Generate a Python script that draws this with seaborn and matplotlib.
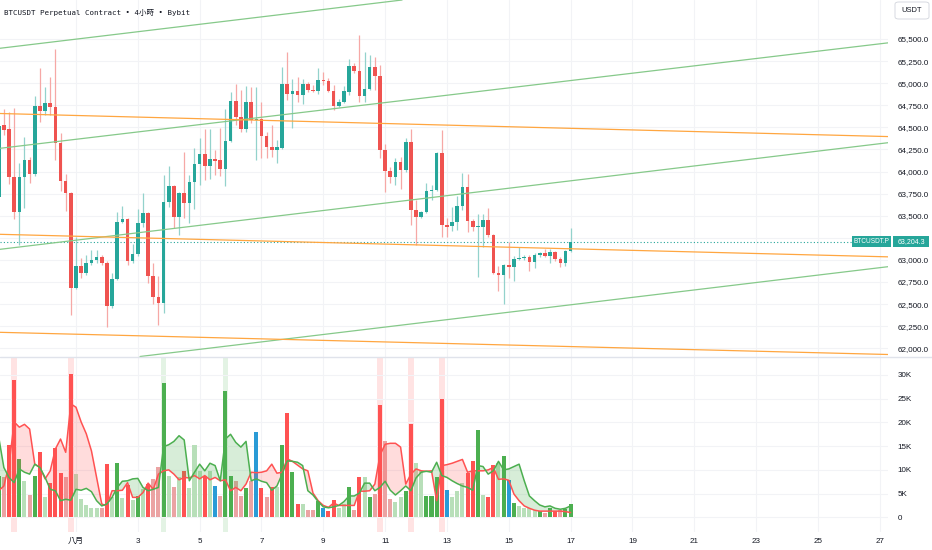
import numpy as np
import pandas as pd
import matplotlib
matplotlib.use("Agg")
import matplotlib.pyplot as plt
import seaborn as sns
from matplotlib.patches import Rectangle, FancyBboxPatch
from matplotlib.lines import Line2D
from matplotlib.ticker import FuncFormatter

# ---------------- data ----------------
first_candle = "2024-07-29 12:00"
opens = [63712, 64527, 64482, 63938, 63542, 63938, 64131, 63972, 64742, 64685,
         64776, 64730, 64323, 63893, 63757, 62682, 62931, 62852, 62965, 62999,
         63033, 62965, 62479, 62784, 63429, 63463, 62988, 63067, 63418, 63531,
         62818, 62580, 62513, 63656, 63837, 63486, 63757, 63644, 63882, 64086,
         64199, 64063, 64142, 64131, 64029, 64346, 64798, 64617, 64482, 64787,
         64583, 64600, 64402, 64278, 64244, 64266, 64991, 64878, 64912, 64866,
         64991, 64923, 64912, 65036, 65025, 64912, 64742, 64787, 64900, 65194,
         65138, 64855, 64934, 65183, 65081, 64244, 64006, 63938, 64108, 64018,
         64334, 63565, 63486, 63542, 63780, 63791, 64210, 63395, 63384, 63429,
         63610, 63825, 63440, 63372, 63372, 63452, 63282, 62852, 62829, 62942,
         62920, 63011, 63022, 63033, 62976, 63056, 63078, 63044, 63090, 63011,
         62965, 63101]
highs = [64583, 64708, 64674, 64719, 64097, 64391, 64165, 64855, 65172, 64957,
         65070, 65387, 64436, 63972, 63770, 63259, 63022, 63056, 63112, 63112,
         63056, 62990, 62852, 63542, 63610, 63475, 63180, 63576, 63757, 63545,
         62965, 62818, 63961, 64063, 63850, 63769, 64221, 63961, 64266, 64380,
         64482, 64482, 64244, 64493, 64708, 64900, 64991, 64923, 64968, 64957,
         64957, 64787, 64450, 64527, 64357, 65183, 65353, 65047, 65070, 65047,
         65013, 64979, 65172, 65127, 65058, 64979, 64821, 64968, 65274, 65228,
         65545, 65353, 65319, 65296, 65206, 64312, 64052, 64153, 64165, 64380,
         64482, 63678, 63554, 63870, 63848, 64221, 64470, 63474, 63599, 63723,
         63984, 63972, 63463, 63520, 63520, 63588, 63290, 62931, 62950, 63203,
         63044, 63146, 63056, 63056, 63078, 63090, 63124, 63124, 63101, 63033,
         63112, 63361]
lows = [63678, 64414, 63859, 63463, 63169, 63588, 63870, 63950, 64561, 64640,
        64640, 64131, 63780, 63554, 62377, 62670, 62795, 62829, 62942, 62960,
        62942, 62241, 62456, 62773, 63418, 62942, 62965, 63044, 63372, 62739,
        62501, 62264, 62399, 63599, 63361, 63282, 63474, 63418, 63576, 63848,
        63904, 63916, 63961, 63950, 63837, 64334, 64527, 64450, 64450, 64550,
        64131, 64153, 64153, 64165, 64097, 64255, 64810, 64493, 64787, 64764,
        64900, 64900, 64878, 64979, 64900, 64696, 64730, 64776, 64866, 65115,
        64787, 64787, 64923, 64923, 64153, 63769, 63870, 63848, 63803, 63995,
        63395, 63169, 63474, 63531, 63678, 63780, 63259, 63259, 63327, 63338,
        63565, 63316, 63327, 62807, 63146, 63259, 62841, 62648, 62501, 62795,
        62761, 62999, 62999, 62874, 62908, 63033, 63033, 62965, 62988, 62920,
        62931, 63090]
closes = [64510, 64470, 63938, 63542, 63938, 64131, 63972, 64742, 64685, 64776,
          64730, 64323, 63893, 63757, 62682, 62931, 62852, 62965, 62999, 63033,
          62965, 62479, 62784, 63429, 63463, 62988, 63067, 63418, 63531, 62818,
          62580, 62513, 63656, 63837, 63486, 63757, 63644, 63882, 64086, 64199,
          64063, 64142, 64119, 64029, 64346, 64798, 64617, 64482, 64787, 64583,
          64600, 64402, 64278, 64244, 64278, 64991, 64878, 64912, 64866, 64991,
          64923, 64912, 65036, 65025, 64912, 64742, 64787, 64912, 65194, 65138,
          64855, 64934, 65183, 65081, 64244, 64006, 63938, 64108, 64018, 64334,
          63565, 63486, 63542, 63780, 63791, 64210, 63395, 63372, 63429, 63610,
          63825, 63440, 63372, 63380, 63452, 63282, 62852, 62829, 62942, 62920,
          63011, 63022, 63033, 62976, 63056, 63078, 63044, 63090, 63011, 62965,
          63101, 63204.3]
volume_k = [8.7, 8.4, 15.3, 28.9, 12.3, 7.7, 4.7, 8.7, 13.7, 4.3,
            7.3, 14.6, 9.3, 8.5, 30.2, 9.1, 3.8, 2.6, 1.9, 2.0,
            1.9, 11.2, 4.2, 11.4, 4.0, 6.8, 3.6, 4.5, 5.9, 7.1,
            8.0, 10.5, 28.4, 8.7, 6.4, 8.4, 9.8, 6.1, 15.3, 9.8,
            8.7, 9.7, 6.6, 4.4, 26.6, 8.7, 7.7, 4.5, 6.1, 7.6,
            17.9, 6.1, 4.3, 6.4, 6.3, 15.3, 22.0, 9.6, 2.9, 2.8,
            1.5, 1.5, 3.4, 1.9, 1.4, 3.6, 2.0, 2.9, 6.3, 1.6,
            8.6, 8.6, 4.3, 5.0, 23.7, 16.1, 3.8, 3.3, 4.2, 5.6,
            19.7, 11.4, 9.8, 4.4, 4.5, 8.5, 25.0, 5.7, 4.3, 5.6,
            7.3, 9.3, 11.8, 18.4, 4.7, 4.2, 11.0, 11.5, 13.0, 7.8,
            3.0, 2.4, 2.0, 1.9, 1.5, 1.3, 1.0, 2.0, 1.3, 1.5,
            1.7, 2.8]
volume_kind = list("GrRRGgrGRg" "RRRrRggggg" "rRgGgRgGgR" "rrGgrgRggg"
                   "RgBrGGrrGr" "BRrRgGRGRg" "rrGBRRggGr" "RgGrRrrggG"
                   "RggGGGRBgg" "gRRGgRRgGB" "GggggGrGRr" "GG")
sell_ma_k = [5.6, 6.6, 11.0, 20.1, 19.0, 19.6, 18.6, 11.2, 10.5, 8.1,
             9.8, 14.4, 16.5, 13.7, 23.9, 23.2, 20.1, 17.6, 14.0, 8.4,
             2.8, 2.4, 5.6, 5.6, 5.7, 7.3, 4.2, 4.2, 5.2, 7.2,
             5.9, 9.1, 9.8, 10.0, 9.1, 7.9, 8.4, 8.3, 8.8, 8.1,
             8.8, 7.9, 8.4, 7.7, 7.9, 5.6, 6.3, 5.6, 7.0, 9.5,
             9.4, 9.5, 9.8, 11.2, 9.3, 9.5, 12.3, 11.8, 11.0, 10.2,
             9.8, 5.1, 3.5, 2.5, 2.1, 3.0, 2.5, 2.5, 2.5, 2.5,
             5.5, 5.5, 5.6, 7.0, 13.1, 15.4, 15.6, 15.6, 14.8, 7.0,
             9.1, 10.2, 9.8, 9.7, 9.8, 3.5, 10.9, 11.1, 11.4, 11.8,
             12.2, 9.5, 9.8, 9.8, 9.8, 10.0, 10.5, 8.0, 8.1, 7.8,
             4.9, 3.5, 2.4, 1.9, 1.5, 1.3, 1.3, 1.3, 1.3, 1.3,
             1.2, 1.0]
buy_ma_k = [16.9, 10.5, 8.4, 7.3, 10.2, 9.5, 9.1, 11.2, 10.5, 8.4,
            5.9, 5.6, 3.5, 3.8, 3.6, 5.9, 5.7, 6.1, 5.4, 3.5,
            2.4, 2.8, 4.2, 6.3, 7.6, 7.7, 8.1, 8.2, 6.3, 5.6,
            5.9, 6.3, 14.9, 15.3, 16.0, 17.2, 16.3, 7.7, 9.5, 11.2,
            9.8, 11.4, 10.9, 7.7, 16.5, 17.5, 15.8, 14.8, 16.0, 7.7,
            8.1, 7.6, 7.3, 5.7, 6.6, 9.1, 11.9, 11.8, 11.6, 10.9,
            5.6, 4.7, 3.3, 2.2, 2.0, 2.2, 2.5, 3.3, 4.5, 4.5,
            5.1, 7.2, 7.2, 5.6, 6.3, 7.6, 5.7, 4.7, 5.6, 6.6,
            5.6, 8.3, 9.5, 9.7, 9.5, 11.6, 8.8, 8.4, 7.7, 7.1,
            6.6, 6.3, 5.7, 10.9, 10.7, 9.1, 9.8, 11.8, 10.0, 10.2,
            10.7, 11.2, 7.7, 4.5, 3.5, 2.6, 2.2, 2.4, 1.9, 1.7,
            1.9, 2.4]
sell_spike_times = ["2024-07-30 00:00", "2024-07-31 20:00", "2024-08-10 20:00",
                    "2024-08-11 20:00", "2024-08-12 20:00"]
buy_spike_times = ["2024-08-03 20:00", "2024-08-05 20:00"]

# trend lines drawn on the chart (anchor time/price pairs)
trend_t0, trend_t1 = "2024-07-29 12:00", "2024-08-27 00:00"
green_p0 = [65393, 64261, 63118, 61715]
green_p1 = [66590, 65445, 64315, 62912]
orange_p0 = [64657, 63290, 62181]
orange_p1 = [64398, 63037, 61932]

tick_days = pd.date_range("2024-08-01", "2024-08-27", freq="2D")
tick_labels = ["八月" if d.day == 1 else str(d.day) for d in tick_days]
price_ticks = list(range(62000, 65501, 250))
vol_ticks_k = [0, 5, 10, 15, 20, 25, 30]
title = "BTCUSDT Perpetual Contract • 4小時 • Bybit"
symbol = "BTCUSDT.P"
currency = "USDT"

# ---------------- style ----------------
sns.set_theme(style="white")
plt.rcParams["font.family"] = ["Liberation Sans", "Noto Sans CJK TC"]
TXT = "#131722"
GRID = "#f2f3f6"
UP, DN = "#26a69a", "#ef5350"
UPW, DNW = "#93d2cc", "#f6a8a6"
VCOL = {"G": "#4caf50", "g": "#b8dfb9", "R": "#ff5252", "r": "#eba3a3", "B": "#2a9bd6"}

W, H = 932, 550
fx = lambda px: px / W
fy = lambda py: 1 - py / H

fig = plt.figure(figsize=(W / 100, H / 100), dpi=100, facecolor="white")
SEP = 356.5
VBOT = 532
ax = fig.add_axes([0, fy(SEP), fx(888), SEP / H])
axv = fig.add_axes([0, fy(VBOT), fx(888), (VBOT - SEP) / H], sharex=ax)

aug1 = pd.Timestamp("2024-08-01")
four_h = pd.Timedelta(hours=4)
to_x = lambda t: (pd.to_datetime(t) - aug1) / four_h
times = pd.date_range(first_candle, periods=len(closes), freq="4h")
x = np.asarray(to_x(times), dtype=float)

o = np.array(opens, float); h = np.array(highs, float)
l = np.array(lows, float); c = np.array(closes, float)
up = c >= o

# price panel
ax.vlines(x, l, h, colors=np.where(up, UPW, DNW), lw=0.9, zorder=2)
ax.bar(x, np.maximum(np.abs(c - o), 12), bottom=np.minimum(o, c), width=0.7,
       color=np.where(up, UP, DN), linewidth=0, zorder=3)

for p0, p1 in zip(green_p0, green_p1):
    ax.axline((to_x(trend_t0), p0), (to_x(trend_t1), p1), color="#86c98a", lw=0.9, zorder=4)
for p0, p1 in zip(orange_p0, orange_p1):
    ax.axline((to_x(trend_t0), p0), (to_x(trend_t1), p1), color="#ffa640", lw=0.9, zorder=4)

last = closes[-1]
ax.axhline(last, color=UP, lw=0.8, ls=(0, (1, 2)), zorder=1)

xmin, xmax = -14.75, 157.6
ax.set_xlim(xmin, xmax)
ax.set_ylim(61907, 65941)
ax.set_yticks(price_ticks)
ax.yaxis.tick_right()
ax.yaxis.set_major_formatter(FuncFormatter(lambda v, _: f"{v:,.1f}"))
ax.tick_params(axis="y", length=0, pad=6.7, labelsize=5.8, labelcolor=TXT)
ax.set_xticks(to_x(tick_days))
ax.tick_params(axis="x", length=0, labelbottom=False)
ax.grid(True, color=GRID, lw=0.8)
for s in ax.spines.values():
    s.set_visible(False)

# volume panel
vol = np.array(volume_k) * 1000
for t in sell_spike_times:
    xi = to_x(t)
    axv.axvspan(xi - 0.55, xi + 0.55, color="#ffe3e3", lw=0, zorder=0.5)
for t in buy_spike_times:
    xi = to_x(t)
    axv.axvspan(xi - 0.55, xi + 0.55, color="#e3f3e4", lw=0, zorder=0.5)
axv.bar(x, vol, width=0.78, color=[VCOL[k] for k in volume_kind], linewidth=0, zorder=2)

sell = np.array(sell_ma_k) * 1000
buy = np.array(buy_ma_k) * 1000
axv.fill_between(x, sell, buy, where=sell >= buy, interpolate=True,
                 color="#ff5252", alpha=0.2, lw=0, zorder=3)
axv.fill_between(x, sell, buy, where=buy >= sell, interpolate=True,
                 color="#4caf50", alpha=0.22, lw=0, zorder=3)
sns.lineplot(x=x, y=sell, ax=axv, color="#ff5252", lw=1.1, sort=False,
             estimator=None, zorder=4)
sns.lineplot(x=x, y=buy, ax=axv, color="#4caf50", lw=1.1, sort=False,
             estimator=None, zorder=4)

axv.set_xlim(xmin, xmax)
axv.set_ylim(-3100, 33900)
axv.set_yticks([v * 1000 for v in vol_ticks_k])
axv.yaxis.tick_right()
axv.yaxis.set_major_formatter(FuncFormatter(lambda v, _: "0" if v == 0 else f"{v/1000:.0f}K"))
axv.tick_params(axis="y", length=0, pad=6.7, labelsize=5.8, labelcolor=TXT)
axv.set_xticks(to_x(tick_days))
axv.set_xticklabels(tick_labels)
axv.tick_params(axis="x", length=0, pad=4.5, labelsize=5.8, labelcolor=TXT)
axv.grid(True, color=GRID, lw=0.8)
axv.set_xlabel(""); axv.set_ylabel("")
for s in axv.spines.values():
    s.set_visible(False)

# panel separator
fig.add_artist(Line2D([0, 1], [fy(SEP), fy(SEP)], transform=fig.transFigure,
                      color="#e0e3eb", lw=1.0))

# title
fig.text(fx(4), fy(12), title, fontsize=5.4, color=TXT, va="center", ha="left",
         family=["DejaVu Sans Mono", "Noto Sans CJK TC"])

# currency box
fig.add_artist(FancyBboxPatch((fx(895), fy(19)), fx(34), 17 / H,
                              boxstyle="round,pad=0,rounding_size=0.004",
                              transform=fig.transFigure, ec="#d1d4dc", fc="white", lw=0.6))
fig.text(fx(912), fy(11), currency, fontsize=5.4, color=TXT, ha="center", va="center")

# last price labels
yc = ax.transData.transform((0, last))[1] / H
bh = 11 / H
fig.add_artist(Rectangle((fx(852), yc - bh / 2), fx(39), bh, transform=fig.transFigure,
                         fc=UP, ec="none", zorder=5))
fig.add_artist(Rectangle((fx(893), yc - bh / 2), fx(36), bh, transform=fig.transFigure,
                         fc=UP, ec="none", zorder=5))
fig.text(fx(871.5), yc, symbol, fontsize=4.7, color="white", ha="center", va="center", zorder=6)
fig.text(fx(911), yc, f"{last:,.1f}", fontsize=5.0, color="white", ha="center", va="center", zorder=6)

fig.savefig("out.png", dpi=100, facecolor="white")
